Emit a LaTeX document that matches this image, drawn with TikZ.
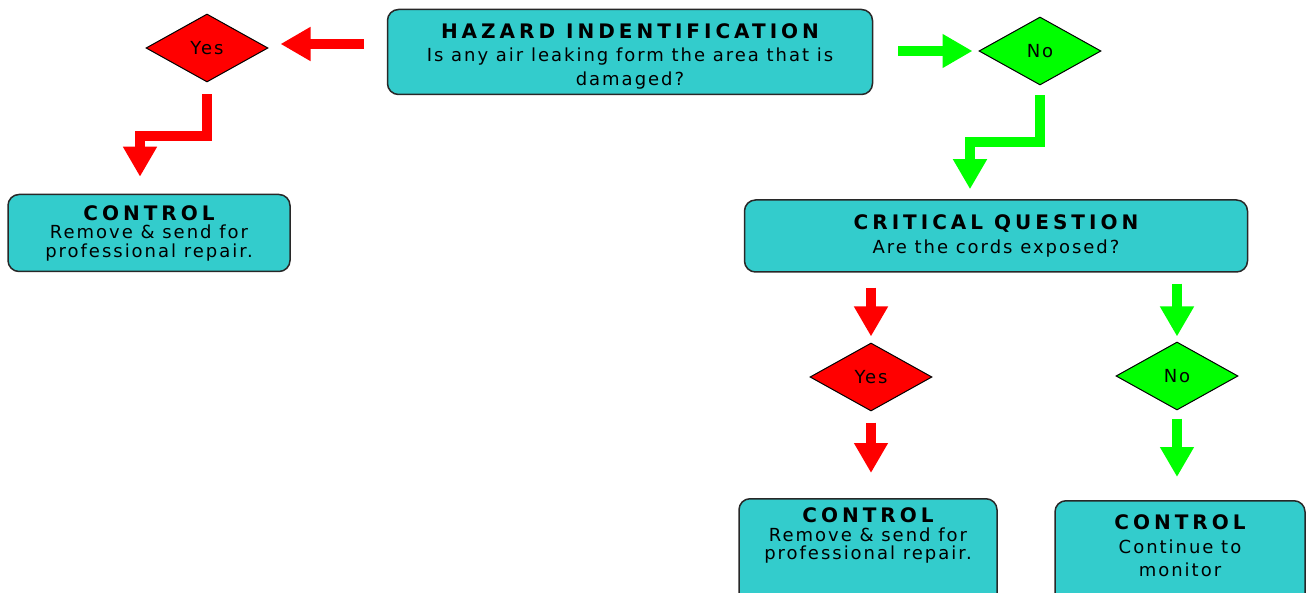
\documentclass[tikz,border=0pt]{standalone}
\usepackage{fontspec}
\newfontfamily\bodyfont[LetterSpace=11]{DejaVu Sans}
\newfontfamily\headfont[LetterSpace=20]{DejaVu Sans Bold}
\usetikzlibrary{arrows.meta,shapes.geometric}
\definecolor{boxteal}{RGB}{51,204,204}
\definecolor{boxline}{RGB}{40,40,40}
\definecolor{yesred}{RGB}{255,0,0}
\definecolor{nogreen}{RGB}{0,255,0}
\newcommand{\boxhead}[1]{{\headfont\fontsize{20}{20}\selectfont #1}}

\tikzset{
  every box/.style={draw=boxline, line width=1.5pt, fill=boxteal, rounded corners=11pt,
    align=center, inner sep=2pt, font=\bodyfont\fontsize{18}{23.5}\selectfont},
  tight box/.style={font=\bodyfont\fontsize{18}{18.5}\selectfont},
  every choice/.style={diamond, draw=black, line width=1pt, inner sep=1pt,
    minimum width=122pt, minimum height=68pt, font=\bodyfont\fontsize{18}{20}\selectfont},
  choice yes/.style={fill=yesred},
  choice no/.style={fill=nogreen},
  flow yes/.style={draw=yesred, line width=10pt, line join=miter, ->},
  flow no/.style={draw=nogreen, line width=10pt, line join=miter, ->},
}

\begin{document}
\begin{tikzpicture}[x=1pt, y=-1pt, >={Triangle[width=32pt,length=30pt]}]

\useasboundingbox (0,0) rectangle (1306,593);

% question boxes
\node [every box/.try, minimum width=485pt, minimum height=85pt] (hazard) at (630,52)
  {\rule{0pt}{23pt}\boxhead{HAZARD INDENTIFICATION}\\Is any air leaking form the area that is\\damaged?};
\node [every box/.try, minimum width=503pt, minimum height=72pt] (critical) at (996,236)
  {\boxhead{CRITICAL QUESTION}\\Are the cords exposed?};

% answers
\node [every choice/.try, choice yes] (yes-1) at (207,48) {Yes};
\node [every choice/.try, choice no] (no-1) at (1040,51) {No};
\node [every choice/.try, choice yes] (yes-2) at (871,377) {Yes};
\node [every choice/.try, choice no] (no-2) at (1177,376) {No};

% controls
\node [every box/.try, tight box, minimum width=282pt, minimum height=77pt] (control-1) at (149,233)
  {\boxhead{CONTROL}\\Remove \& send for\\professional repair.};
\node [every box/.try, tight box, minimum width=258pt, inner ysep=9pt, anchor=north,
  text depth=80pt] (control-2) at (868,498)
  {\boxhead{CONTROL}\\Remove \& send for\\professional repair.};
\node [every box/.try, minimum width=250pt, inner ysep=14pt, anchor=north,
  text depth=80pt] (control-3) at (1180,500)
  {\boxhead{CONTROL}\\Continue to\\monitor};

% flow arrows
\draw [flow yes, shorten <=23pt, shorten >=12pt] ([yshift=4pt]hazard.west |- yes-1) -- ([yshift=4pt]yes-1.east);
\draw [flow no, shorten <=25pt, shorten >=6pt] (hazard.east |- no-1) -- (no-1.west);

\draw [flow yes, shorten <=12pt, shorten >=17pt]
  (yes-1.south) -- ++(0,54) -| ([xshift=-9pt]control-1.north);
\draw [flow no, shorten <=10pt, shorten >=10pt]
  (no-1.south) -- ++(0,57) -| ([xshift=-26pt]critical.north);

\draw [flow yes, shorten <=15pt, shorten >=6pt] (critical.south -| yes-2) -- (yes-2.north);
\draw [flow no, shorten <=11pt, shorten >=5pt] (critical.south -| no-2) -- (no-2.north);

\draw [flow yes, shorten <=11pt, shorten >=25pt] (yes-2.south) -- (yes-2.south |- control-2.north);
\draw [flow no, shorten <=8pt, shorten >=23pt] (no-2.south) -- (no-2.south |- control-3.north);

\end{tikzpicture}
\end{document}
